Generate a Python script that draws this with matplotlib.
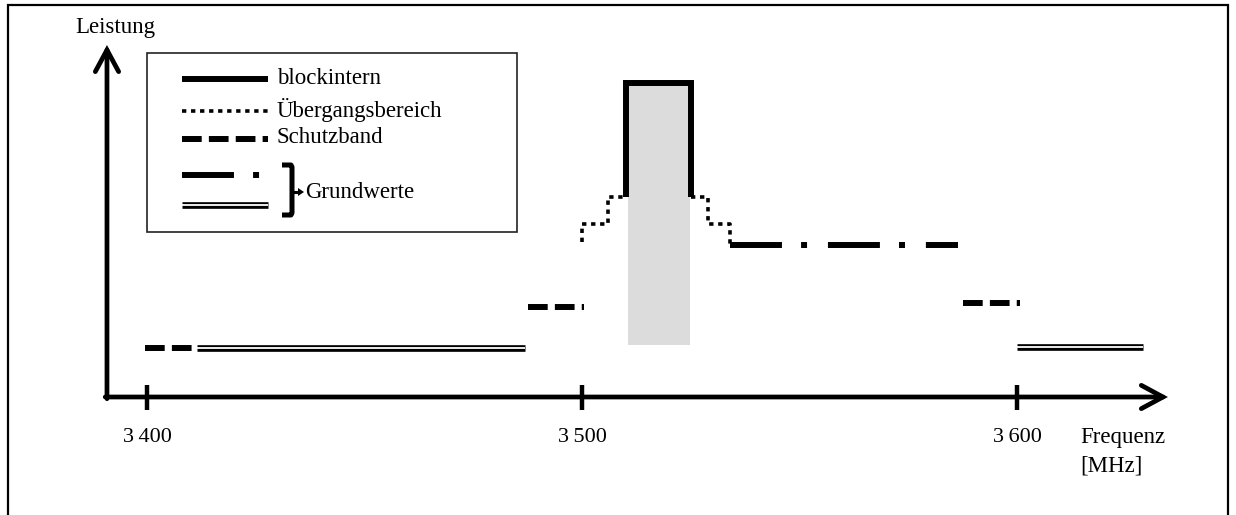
import matplotlib
matplotlib.use("Agg")
import matplotlib.pyplot as plt
from matplotlib.patches import Rectangle, Polygon

plt.rcParams['font.family'] = ['Liberation Serif', 'DejaVu Serif']

# ---------------- data (frequency in MHz, power in arbitrary units) ----------
freq_ticks = [3400, 3500, 3600]
tick_labels = ['3\u2009400', '3\u2009500', '3\u2009600']

axis_origin = (3390.8, 0)
axis_x_end = 3634.7
axis_y_end = 352

block_x = [3510, 3510, 3525, 3525]
block_y = [200, 314, 314, 200]

shade_x = [3510.6, 3524.8]
shade_y = [52, 314]

trans_left_x = [3500, 3500, 3506, 3506, 3510]
trans_left_y = [155, 173, 173, 200, 200]
trans_right_x = [3525, 3529, 3529, 3534, 3534]
trans_right_y = [200, 200, 173, 173, 152]

guard_x = [(3399.5, 3411), (3487.6, 3500.5), (3587.6, 3600.6)]
guard_y = [49, 90, 94]

base_dashdot_x = (3534, 3586.4)
base_dashdot_y = 152

base_double_x = [(3411.5, 3487), (3600, 3629)]
base_double_y = [49, 50]

legend_labels = ['blockintern', 'Übergangsbereich', 'Schutzband']
brace_label = 'Grundwerte'

# ---------------- figure ------------------------------------------------------
W, H = 1236, 515
fig = plt.figure(figsize=(W / 100, H / 100), dpi=100)
ax = fig.add_axes([0, 0, 1, 1])
PX = 4.35  # pixels per MHz
ax.set_xlim(3400 - 147 / PX, 3400 + (W - 147) / PX)
ax.set_ylim(-(H - 397), 397)
ax.axis('off')


def P(x, y):
    return (x / W, 1 - y / H)


ft = fig.transFigure
FS = 16.5

# outer frame
fig.patches.append(Rectangle(P(8, 520), (1228 - 8) / W, (520 - 5) / H,
                             transform=ft, fill=False, lw=1.6, ec='black'))

# shaded block
ax.add_patch(Rectangle((shade_x[0], shade_y[0]), shade_x[1] - shade_x[0],
                       shade_y[1] - shade_y[0], fc='#dcdcdc', ec='none', zorder=1))

# axes arrows
ox, oy = axis_origin
arrow = dict(arrowstyle='->,head_length=0.78,head_width=0.42', lw=3.4,
             color='black', shrinkA=0, shrinkB=0, mutation_scale=20,
             joinstyle='miter')
ax.annotate('', xy=(axis_x_end, oy), xytext=(ox - 0.4, oy), arrowprops=arrow)
ax.annotate('', xy=(ox, axis_y_end), xytext=(ox, oy - 1.7), arrowprops=arrow)
for f, lab in zip(freq_ticks, tick_labels):
    ax.plot([f, f], [-13, 12], color='black', lw=3.2, solid_capstyle='butt')
    ax.text(f, -41, lab, ha='center', va='center', fontsize=16)

ax.text(3400 + (75 - 147) / PX, 397 - 28, 'Leistung', ha='left', va='center', fontsize=FS)
ax.text(3400 + (1080 - 147) / PX, -41, 'Frequenz', ha='left', va='center', fontsize=FS)
ax.text(3400 + (1080 - 147) / PX, -69, '[MHz]', ha='left', va='center', fontsize=FS)

# styles
LW = 4.3
solid = dict(color='black', lw=LW, solid_capstyle='butt', solid_joinstyle='miter')
dotted = dict(color='black', lw=2.6, linestyle=(0, (1.2, 1.3)), dash_capstyle='butt')
dashed = dict(color='black', lw=LW, linestyle=(0, (3.3, 1.2)), dash_capstyle='butt')
dashdot = dict(color='black', lw=LW, linestyle=(0, (8.7, 3.2, 1.0, 3.5)), dash_capstyle='butt')
DBL_OUT, DBL_IN = 4.8, 1.3


def double(xs, ys, **kw):
    ax.plot(xs, ys, color='black', lw=DBL_OUT, solid_capstyle='butt', **kw)
    ax.plot(xs, ys, color='white', lw=DBL_IN, solid_capstyle='butt', **kw)


# data lines
ax.plot(block_x, block_y, zorder=3, **solid)
ax.plot(trans_left_x, trans_left_y, zorder=3, **dotted)
ax.plot(trans_right_x, trans_right_y, zorder=3, **dotted)
for (x0, x1), y in zip(guard_x, guard_y):
    ax.plot([x0, x1], [y, y], zorder=3, **dashed)
ax.plot(list(base_dashdot_x), [base_dashdot_y] * 2, zorder=3, **dashdot)
for (x0, x1), y in zip(base_double_x, base_double_y):
    double([x0, x1], [y, y], zorder=3)

# ---------------- legend (drawn manually) -------------------------------------
fig.patches.append(Rectangle(P(147, 232), (517 - 147) / W, (232 - 53) / H,
                             transform=ft, fill=False, lw=1.2, ec='#222222'))
rows = [79, 111, 139, 175, 205]
styles = [solid, dotted, dashed, dashdot]
for yy, st in zip(rows[:4], styles):
    xa, ya = P(182, yy)
    xb, yb = P(268, yy)
    fig.add_artist(plt.Line2D([xa, xb], [ya, yb], transform=ft, **st))
xa, ya = P(182, rows[4])
xb, yb = P(268, rows[4])
fig.add_artist(plt.Line2D([xa, xb], [ya, yb], transform=ft, color='black', lw=DBL_OUT, solid_capstyle='butt'))
fig.add_artist(plt.Line2D([xa, xb], [ya, yb], transform=ft, color='white', lw=DBL_IN, solid_capstyle='butt'))
for yy, lab in zip(rows[:3], legend_labels):
    fig.text(*P(277, yy - 1), lab, ha='left', va='center', fontsize=FS)

# brace (square bracket with pointer)
bp = [(282, 165), (291, 165), (292, 167), (292, 213), (291, 215), (282, 215)]
fig.add_artist(plt.Line2D([P(*p)[0] for p in bp], [P(*p)[1] for p in bp],
                          transform=ft, color='black', lw=3.6,
                          solid_joinstyle='round', solid_capstyle='butt'))
fig.add_artist(plt.Line2D([P(292, 192)[0], P(299, 192)[0]], [P(292, 192)[1]] * 2,
                          transform=ft, color='black', lw=2.2))
fig.patches.append(Polygon([P(298, 188), P(304, 192), P(298, 196)], closed=True,
                           transform=ft, fc='black', ec='none'))
fig.text(*P(305, 193), brace_label, ha='left', va='center', fontsize=FS)

fig.savefig('out.png', dpi=100)
